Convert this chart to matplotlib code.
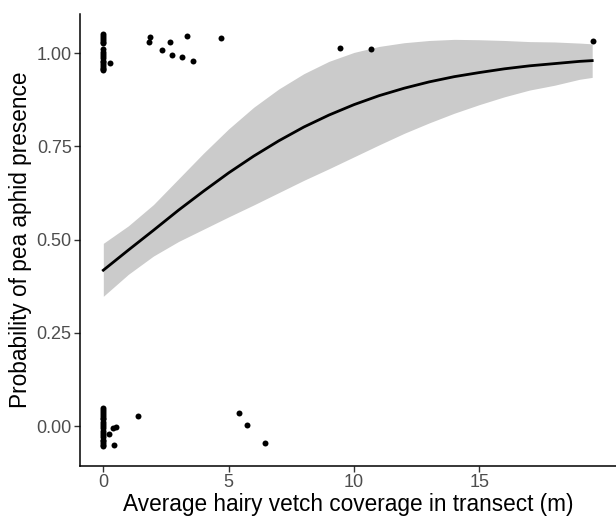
import numpy as np
import matplotlib
matplotlib.use("Agg")
from matplotlib import pyplot as plt

plt.rcParams['font.family'] = ['Liberation Sans', 'DejaVu Sans']

# fitted curve and band
fit_x = [0, 1, 2, 3, 4, 5, 6, 7, 8, 9, 10, 11, 12, 13, 14, 15, 16, 17, 18, 19, 19.5]
fit_y = [0.418, 0.472, 0.525, 0.579, 0.630, 0.679, 0.724, 0.765, 0.802, 0.834, 0.862,
         0.886, 0.906, 0.923, 0.937, 0.948, 0.958, 0.966, 0.972, 0.978, 0.980]
band_hi = [0.490, 0.537, 0.594, 0.663, 0.732, 0.797, 0.855, 0.904, 0.945, 0.978, 1.002,
           1.018, 1.028, 1.034, 1.037, 1.036, 1.034, 1.031, 1.030, 1.027, 1.025]
band_lo = [0.348, 0.407, 0.456, 0.495, 0.528, 0.561, 0.593, 0.626, 0.659, 0.690, 0.722,
           0.754, 0.785, 0.813, 0.839, 0.862, 0.883, 0.901, 0.914, 0.930, 0.935]

# jittered observations (presence = ~1, absence = ~0)
pres_x = [0] * 18 + [0.25, 1.88, 1.82, 3.33, 2.67, 2.35, 2.72, 3.14, 3.56, 4.69, 9.46, 10.67, 19.54]
pres_y = [1.052, 1.046, 1.040, 1.035, 1.030, 1.026, 1.010, 1.004, 0.998, 0.992, 0.986,
          0.980, 0.975, 0.970, 0.965, 0.960, 0.957, 0.954,
          0.973, 1.042, 1.030, 1.046, 1.029, 1.008, 0.994, 0.990, 0.980, 1.040, 1.013, 1.012, 1.033]
abs_x = [0] * 20 + [0.39, 0.50, 0.22, 0.44, 1.40, 5.42, 5.75, 6.44]
abs_y = [0.048, 0.043, 0.038, 0.033, 0.028, 0.023, 0.018, 0.012, 0.006, 0.0, -0.006,
         -0.012, -0.018, -0.024, -0.030, -0.036, -0.041, -0.046, -0.050, -0.054,
         -0.004, -0.002, -0.021, -0.051, 0.027, 0.036, 0.003, -0.046]

fig = plt.figure(figsize=(6.16, 5.17), dpi=100)
ax = fig.add_axes([80 / 616, 51 / 517, 1 - 80 / 616, 452 / 517])

ax.fill_between(fit_x, band_lo, band_hi, color="#CBCBCB", lw=0, zorder=1)
ax.plot(fit_x, fit_y, color="black", lw=2.0, zorder=2)
ax.plot(pres_x, pres_y, "o", color="black", ms=4.3, mew=0, zorder=3)
ax.plot(abs_x, abs_y, "o", color="black", ms=4.3, mew=0, zorder=3)

ax.set_xlim(-0.93, 20.45)
ax.set_ylim(-0.107, 1.105)
ax.set_xticks([0, 5, 10, 15])
ax.set_yticks([0, 0.25, 0.5, 0.75, 1.0])
ax.set_yticklabels(["0.00", "0.25", "0.50", "0.75", "1.00"])

for s in ["top", "right"]:
    ax.spines[s].set_visible(False)
for s in ["left", "bottom"]:
    ax.spines[s].set_linewidth(1.1)
ax.tick_params(length=4, width=1.0, color="#333333", labelsize=13, labelcolor="#4D4D4D", pad=2)

ax.set_xlabel("Average hairy vetch coverage in transect (m)", fontsize=16.3, labelpad=1)
ax.set_ylabel("Probability of pea aphid presence", fontsize=16.3, labelpad=3)

fig.savefig("out.png", dpi=100)
